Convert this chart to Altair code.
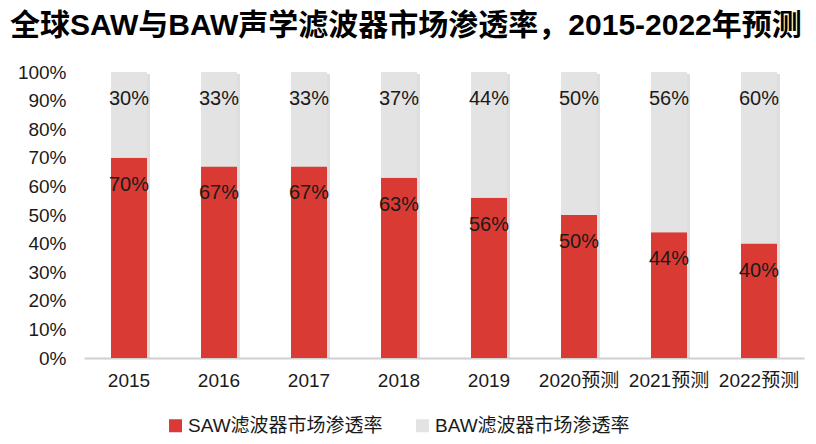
import altair as alt
import pandas as pd

years = ["2015", "2016", "2017", "2018", "2019", "2020预测", "2021预测", "2022预测"]
saw = [70, 67, 67, 63, 56, 50, 44, 40]
baw = [30, 33, 33, 37, 44, 50, 56, 60]
series = ["SAW滤波器市场渗透率", "BAW滤波器市场渗透率"]
colors = ["#d93b34", "#e3e3e3"]
ticks = [0, 10, 20, 30, 40, 50, 60, 70, 80, 90, 100]

rows = []
for i, y in enumerate(years):
    rows.append({"year": y, "series": series[0], "value": saw[i], "ord": 0})
    rows.append({"year": y, "series": series[1], "value": baw[i], "ord": 1})
df = pd.DataFrame(rows)

FONT = "Liberation Sans, Noto Sans CJK SC"

base = alt.Chart(df).transform_stack(
    stack="value", groupby=["year"], sort=[alt.SortField("ord")], as_=["v0", "v1"]
)

xenc = alt.X("year:N", sort=years, title=None,
             scale=alt.Scale(paddingInner=0.6, paddingOuter=0.3),
             axis=alt.Axis(labelAngle=0, labelFontSize=19, labelColor="#1a1a1a",
                           labelFont=FONT, ticks=False, domainColor="#d0d0d0",
                           domainWidth=2, labelPadding=13, labelOverlap=False))

yscale = alt.Scale(domain=[0, 100], nice=False)
yaxis = alt.Axis(values=ticks, tickCount=11, labelExpr="datum.value + '%'",
                 domain=False, ticks=False, grid=False, labelFontSize=19,
                 labelColor="#1a1a1a", labelFont=FONT, labelPadding=18,
                 labelOverlap=False, labelFlush=False)

shadow = base.transform_filter(alt.datum.ord == 1).mark_bar(
    color="#bdbdbd", opacity=0.5, xOffset=3, yOffset=2
).encode(x=xenc, y=alt.Y("v1:Q", scale=yscale, title=None, axis=yaxis),
         y2=alt.datum(0))

bars = base.mark_bar().encode(
    x=xenc,
    y=alt.Y("v0:Q", scale=yscale, title=None, axis=yaxis),
    y2="v1:Q",
    color=alt.Color("series:N", sort=series,
                    scale=alt.Scale(domain=series, range=colors),
                    legend=alt.Legend(title=None, orient="none", direction="horizontal",
                                      legendX=82, legendY=344, symbolType="square",
                                      symbolSize=170, symbolStrokeWidth=0,
                                      labelFontSize=19, labelFont=FONT, labelLimit=0,
                                      labelColor="#1a1a1a", columnPadding=30,
                                      symbolOffset=0, labelOffset=3)),
)

labels = base.mark_text(fontSize=20, font=FONT, color="#1a1a1a", dy=27).encode(
    x=xenc,
    y=alt.Y("v1:Q", scale=yscale, title=None, axis=yaxis),
    text=alt.Text("label:N"),
).transform_calculate(label="datum.value + '%'")

chart = alt.layer(shadow, bars, labels).properties(
    width=720, height=286,
    autosize=alt.AutoSizeParams(type="none"),
    padding={"left": 76, "top": 64, "right": 4, "bottom": 78},
    title=alt.Title("全球SAW与BAW声学滤波器市场渗透率，2015-2022年预测",
                    anchor="start", frame="group", dx=-74, offset=22,
                    fontSize=30, fontWeight="bold", font=FONT, color="#000000"),
).configure_view(stroke=None)

chart.save("out.html", embed_options={"renderer": "svg", "actions": False})
